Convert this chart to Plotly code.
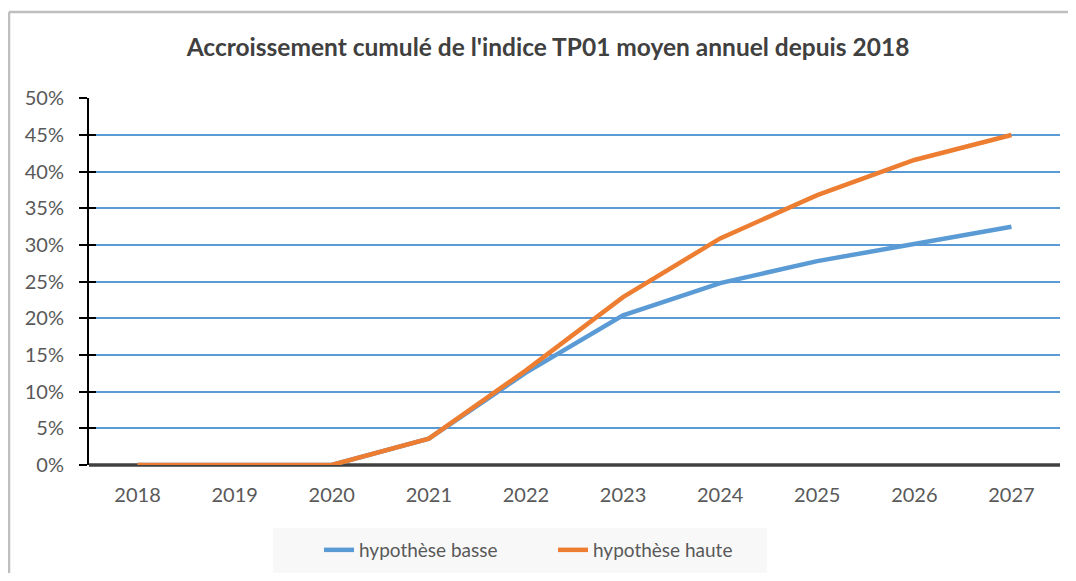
import plotly.graph_objects as go

years = ["2018", "2019", "2020", "2021", "2022", "2023", "2024", "2025", "2026", "2027"]
basse = [0.0, 0.0, 0.0, 0.036, 0.126, 0.204, 0.248, 0.278, 0.302, 0.325]
haute = [0.0, 0.0, 0.0, 0.036, 0.129, 0.229, 0.309, 0.368, 0.416, 0.450]
y_ticks = [0, 0.05, 0.10, 0.15, 0.20, 0.25, 0.30, 0.35, 0.40, 0.45, 0.50]
y_labels = ["0%", "5%", "10%", "15%", "20%", "25%", "30%", "35%", "40%", "45%", "50%"]

OFF = 8  # browser body margin
W, H = 1076 - 2 * OFF, 581 - 2 * OFF
L, R, T, B = 89 - OFF, W - (1060 - OFF), 98 - OFF, H - (465 - OFF)
pw, ph = W - L - R, H - T - B

def px_x(x):  # reference page pixel -> paper coord
    return (x - OFF - L) / pw

def px_y(y):
    return (H - B - (y - OFF)) / ph

font = "Lato"
fig = go.Figure()
fig.add_trace(go.Scatter(x=years, y=basse, mode="lines", name="hypothèse basse",
                         line=dict(color="#5b9bd5", width=4.5)))
fig.add_trace(go.Scatter(x=years, y=haute, mode="lines", name="hypothèse haute",
                         line=dict(color="#ed7d31", width=4.5)))
fig.add_trace(go.Scatter(x=[years[0]], y=[0], yaxis="y2", mode="markers",
                         marker=dict(opacity=0), showlegend=False, hoverinfo="skip"))

fig.update_layout(
    width=W, height=H,
    margin=dict(l=L, r=R, t=T, b=B, autoexpand=False),
    paper_bgcolor="white", plot_bgcolor="white",
    title=dict(text="<b>Accroissement cumulé de l'indice TP01 moyen annuel depuis 2018</b>",
               x=(548 - OFF) / W, xanchor="center", y=1 - (47 - OFF) / H, yanchor="middle",
               font=dict(family=font, size=24.5, color="#404040")),
    font=dict(family=font, color="#595959"),
    xaxis=dict(type="category", range=[-0.5, 9.5], showgrid=False,
               showline=False, zeroline=False, ticks="",
               tickfont=dict(size=20, color="#595959"), ticklabelstandoff=16,
               fixedrange=True, automargin=False),
    yaxis=dict(range=[0, 0.5005], tickvals=y_ticks, ticktext=y_labels,
               showgrid=True, gridcolor="#5b9bd5", gridwidth=1.6,
               showline=True, linecolor="black", linewidth=2,
               ticks="outside", ticklen=8, tickwidth=2, tickcolor="black",
               zeroline=False, tickfont=dict(size=20, color="#595959"),
               ticklabelstandoff=11, fixedrange=True, automargin=False),
    yaxis2=dict(range=[0, 0.5005], tickvals=y_ticks, overlaying="y", side="left",
                anchor="x", showgrid=False, showline=False, zeroline=False,
                ticks="inside", ticklen=7, tickwidth=2, tickcolor="black",
                showticklabels=False, fixedrange=True, automargin=False),
    legend=dict(orientation="h", x=px_x(319), xanchor="left",
                y=px_y(550), yanchor="middle",
                bgcolor="rgba(0,0,0,0)", borderwidth=0,
                font=dict(family=font, size=19, color="#595959"),
                entrywidth=189, entrywidthmode="pixels",
                tracegroupgap=0),
    showlegend=True,
)

# baseline (0%) axis line, dark gray
fig.add_shape(type="line", xref="paper", yref="paper", x0=0, x1=1, y0=0, y1=0,
              line=dict(color="#404040", width=3.5), layer="below")
# legend box
fig.add_shape(type="rect", xref="paper", yref="paper",
              x0=px_x(273), x1=px_x(767), y0=px_y(573), y1=px_y(528),
              line=dict(width=0), fillcolor="#f8f8f8", layer="below")
# outer chart border (top and left edges; the others fall outside the picture)
fig.add_shape(type="line", xref="paper", yref="paper",
              x0=px_x(9), x1=px_x(1100), y0=px_y(12), y1=px_y(12),
              line=dict(color="#bfbfbf", width=2.5))
fig.add_shape(type="line", xref="paper", yref="paper",
              x0=px_x(9), x1=px_x(9), y0=px_y(12), y1=px_y(610),
              line=dict(color="#bfbfbf", width=2.5))

fig.write_html("out.html")
